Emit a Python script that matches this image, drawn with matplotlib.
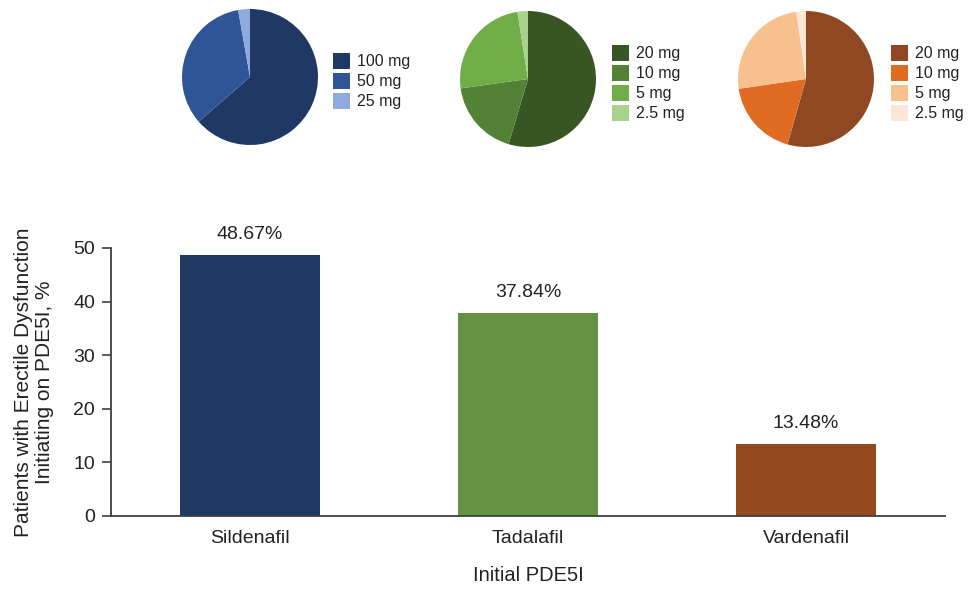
import matplotlib.pyplot as plt
from matplotlib.patches import Patch

plt.rcParams['font.family'] = ['Liberation Sans', 'DejaVu Sans']
plt.rcParams['text.color'] = '#222222'
plt.rcParams['axes.labelcolor'] = '#222222'
plt.rcParams['xtick.labelcolor'] = '#222222'
plt.rcParams['ytick.labelcolor'] = '#222222'

# share of patients initiating on each PDE5I
drugs = ['Sildenafil', 'Tadalafil', 'Vardenafil']
share = [48.67, 37.84, 13.48]
bar_colors = ['#203864', '#649443', '#96481f']

# dose split within each drug (percent of that drug's patients)
sil_doses = ['100 mg', '50 mg', '25 mg']
sil_split = [63.6, 33.6, 2.8]
sil_colors = ['#1f3864', '#2f5597', '#8faadc']

tad_doses = ['20 mg', '10 mg', '5 mg', '2.5 mg']
tad_split = [54.6, 18.2, 24.7, 2.5]
tad_colors = ['#375623', '#538135', '#70ad47', '#a9d18e']

var_doses = ['20 mg', '10 mg', '5 mg', '2.5 mg']
var_split = [54.4, 18.3, 25.0, 2.3]
var_colors = ['#8f4822', '#e06c24', '#f8c08f', '#fde6d6']

W, H = 971, 589
fig = plt.figure(figsize=(W / 100, H / 100), dpi=100)

def px_axes(x0, y0, x1, y1):
    # pixel box (top-left origin) -> figure axes
    return fig.add_axes([x0 / W, 1 - y1 / H, (x1 - x0) / W, (y1 - y0) / H])

# bar chart
ax = px_axes(111, 248, 945, 516)
ax.bar(range(3), share, width=0.507, color=bar_colors)
for i, v in enumerate(share):
    ax.text(i, v + 2.2, f'{v:.2f}%', ha='center', va='bottom', fontsize=14)
ax.set_xlim(-0.5, 2.5)
ax.set_ylim(0, 50)
ax.set_yticks([0, 10, 20, 30, 40, 50])
ax.set_xticks(range(3))
ax.set_xticklabels(drugs)
ax.tick_params(labelsize=14, length=6.5, width=1.2, pad=5, color='#404040')
ax.tick_params(axis='x', length=0, pad=10)
for s in ['top', 'right']:
    ax.spines[s].set_visible(False)
for s in ['left', 'bottom']:
    ax.spines[s].set_linewidth(1.3)
    ax.spines[s].set_color('#404040')
ax.set_xlabel('Initial PDE5I', fontsize=14.5, labelpad=14)
ax.set_ylabel('Patients with Erectile Dysfunction\nInitiating on PDE5I, %',
              fontsize=15, labelpad=14, linespacing=1.1)

# dose pies with their legends
pies = [
    (250, 77, sil_split, sil_colors, sil_doses, 333),
    (528, 79, tad_split, tad_colors, tad_doses, 612),
    (806, 79, var_split, var_colors, var_doses, 891),
]
r = 68
for cx, cy, vals, cols, labels, lx in pies:
    pa = px_axes(cx - r, cy - r, cx + r, cy + r)
    pa.pie(vals, colors=cols, startangle=90, counterclock=False,
           wedgeprops=dict(linewidth=0))
    pa.set_xlim(-1, 1)
    pa.set_ylim(-1, 1)
    pa.set_aspect('equal')
    pa.axis('off')
    handles = [Patch(facecolor=c, edgecolor='none') for c in cols]
    fig.legend(handles, labels, loc='center left',
               bbox_to_anchor=(lx / W, 1 - (cy + 4) / H), frameon=False,
               fontsize=11.5, handlelength=1.05, handleheight=1.2,
               handletextpad=0.45, labelspacing=0.22, borderpad=0,
               borderaxespad=0)

fig.savefig('out.png', dpi=100)
